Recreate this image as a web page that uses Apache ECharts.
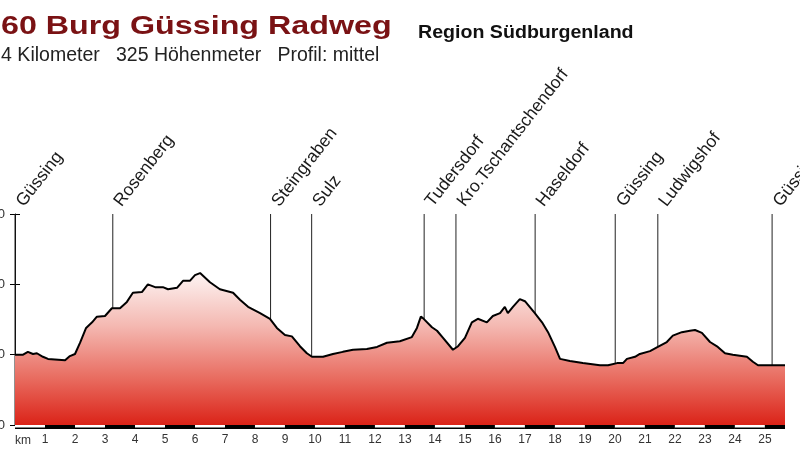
<!DOCTYPE html>
<html>
<head>
<meta charset="utf-8">
<title>Burg Güssing Radweg</title>
<script src="https://cdn.jsdelivr.net/npm/echarts@6/dist/echarts.min.js"></script>
<style>
  html, body { margin: 0; padding: 0; background: #fff; }
  #chart { width: 800px; height: 450px; }
</style>
</head>
<body>
<div id="chart"></div>
<script>
// Streckenprofil: Distanz (km) und Höhe (m)
var profileKm = [0, 0.27, 0.43, 0.6, 0.73, 0.93, 1.1, 1.67, 1.83, 2.0,
  2.17, 2.37, 2.57, 2.73, 3.0, 3.23, 3.5, 3.73, 3.93, 4.23,
  4.43, 4.67, 4.93, 5.1, 5.4, 5.6, 5.83, 6.0, 6.17, 6.5,
  6.83, 7.27, 7.5, 7.77, 8.17, 8.5, 8.73, 9.0, 9.23, 9.5,
  9.73, 9.9, 10.27, 10.6, 10.93, 11.27, 11.73, 12.07, 12.4, 12.83,
  13.23, 13.4, 13.53, 13.6, 13.9, 14.07, 14.27, 14.6, 14.77, 15.0,
  15.23, 15.43, 15.73, 15.93, 16.17, 16.33, 16.43, 16.6, 16.83, 17.0,
  17.33, 17.57, 17.77, 18.0, 18.17, 18.5, 18.93, 19.5, 19.77, 20.07,
  20.27, 20.4, 20.67, 20.83, 21.17, 21.43, 21.73, 21.93, 22.23, 22.5,
  22.67, 22.9, 23.17, 23.43, 23.67, 23.93, 24.4, 24.6, 24.77, 25.23,
  25.67];
var profileElev = [200, 200, 204, 201, 202, 197, 194, 192, 198, 201,
  217, 238, 246, 254, 255, 266, 266, 275, 288, 289,
  300, 296, 296, 293, 295, 305, 305, 313, 316, 303,
  293, 288, 278, 268, 259, 251, 238, 228, 226, 212,
  202, 197, 197, 201, 204, 207, 208, 211, 217, 219,
  225, 238, 254, 252, 239, 234, 224, 207, 212, 224,
  246, 251, 246, 255, 259, 268, 259, 268, 279, 276,
  259, 246, 232, 211, 194, 191, 188, 185, 185, 188,
  188, 194, 197, 201, 205, 211, 218, 227, 232, 234,
  235, 231, 218, 211, 202, 200, 197, 190, 185, 185,
  185];

// Orte entlang der Strecke
var placeNames = ['Güssing', 'Rosenberg', 'Steingraben', 'Sulz', 'Tudersdorf',
  'Kro.Tschantschendorf', 'Haseldorf', 'Güssing', 'Ludwigshof', 'Güssing'];
var placeKm = [0, 3.26, 8.52, 9.89, 13.64, 14.7, 17.34, 20.01, 21.43, 25.24];

// Achsen
var kmLabels = [1, 2, 3, 4, 5, 6, 7, 8, 9, 10, 11, 12, 13, 14, 15, 16, 17, 18, 19, 20, 21, 22, 23, 24, 25];
var elevTicks = [100, 200, 300, 400];
var xMax = 25.67;

var yMin = elevTicks[0];
var yMax = elevTicks[elevTicks.length - 1];
var font = '"Liberation Sans", Arial, sans-serif';
var labelAngle = 52 * Math.PI / 180;

var myChart = echarts.init(document.getElementById('chart'));

myChart.setOption({
  animation: false,
  backgroundColor: '#fff',
  grid: { left: 15, right: 15, top: 214, bottom: 25, containLabel: false, outerBoundsMode: 'none' },
  graphic: [
    {
      type: 'text', x: 1, y: 27, scaleX: 1.29, silent: true,
      style: { text: '60 Burg Güssing Radweg', font: 'bold 25px ' + font, fill: '#7a1214',
        align: 'left', verticalAlign: 'middle' }
    },
    {
      type: 'text', x: 418, y: 33, scaleX: 1.12, silent: true,
      style: { text: 'Region Südburgenland', font: 'bold 17.5px ' + font, fill: '#111',
        align: 'left', verticalAlign: 'middle' }
    },
    {
      type: 'text', x: -26, y: 56, silent: true,
      style: { text: '25,4 Kilometer   325 Höhenmeter   Profil: mittel', font: '19.5px ' + font, fill: '#222',
        align: 'left', verticalAlign: 'middle' }
    },
    {
      type: 'text', x: 15, y: 441, silent: true,
      style: { text: 'km', font: '12px ' + font, fill: '#333', align: 'left', verticalAlign: 'middle' }
    }
  ],
  xAxis: {
    type: 'value',
    min: 0,
    max: xMax,
    interval: 1,
    axisLine: { show: false },
    axisTick: { show: false },
    splitLine: { show: false },
    axisLabel: {
      margin: 9,
      fontSize: 12,
      fontFamily: font,
      color: '#333',
      formatter: function (v) {
        return kmLabels.indexOf(v) >= 0 ? String(v) : '';
      }
    }
  },
  yAxis: [
    {
      type: 'value',
      position: 'left',
      min: yMin,
      max: yMax,
      interval: 100,
      axisLine: { show: true, lineStyle: { color: '#000', width: 1 } },
      axisTick: { show: true, length: 5, lineStyle: { color: '#000' } },
      splitLine: { show: false },
      axisLabel: { margin: 10, fontSize: 13, fontFamily: font, color: '#333' }
    },
    {
      type: 'value',
      position: 'left',
      min: yMin,
      max: yMax,
      interval: 100,
      axisLine: { show: false },
      axisTick: { show: true, inside: true, length: 5, lineStyle: { color: '#000' } },
      splitLine: { show: false },
      axisLabel: { show: false }
    }
  ],
  series: [
    {
      // Ortsmarken: senkrechte Linien und schräge Beschriftung
      type: 'custom',
      z: 1,
      clip: false,
      silent: true,
      data: placeKm.map(function (k) { return [k, yMax]; }),
      renderItem: function (params, api) {
        var km = api.value(0);
        var top = api.coord([km, yMax]);
        var bottom = api.coord([km, yMin]);
        return {
          type: 'group',
          children: [
            {
              type: 'line',
              shape: { x1: top[0], y1: top[1], x2: bottom[0], y2: bottom[1] },
              style: { stroke: '#222', lineWidth: 1 }
            },
            {
              type: 'text',
              x: top[0] + 12,
              y: top[1] - 4,
              rotation: labelAngle,
              style: {
                text: placeNames[params.dataIndex],
                font: '17.5px ' + font,
                fill: '#1a1a1a',
                align: 'left',
                verticalAlign: 'bottom'
              }
            }
          ]
        };
      }
    },
    {
      // Höhenprofil
      type: 'line',
      z: 3,
      silent: true,
      showSymbol: false,
      data: profileKm.map(function (k, i) { return [k, profileElev[i]]; }),
      lineStyle: { color: '#000', width: 2 },
      areaStyle: {
        origin: 'start',
        opacity: 1,
        color: new echarts.graphic.LinearGradient(0, 0, 0, 1, [
          { offset: 0, color: '#fdf4f3' },
          { offset: 0.35, color: '#f4b8b1' },
          { offset: 0.7, color: '#e86a5e' },
          { offset: 1, color: '#db2318' }
        ])
      }
    },
    {
      // Kilometerbalken unter dem Profil
      type: 'custom',
      z: 4,
      clip: false,
      silent: true,
      data: [0].concat(kmLabels).map(function (k) { return [k, yMin]; }),
      renderItem: function (params, api) {
        var k = api.value(0);
        var a = api.coord([k, yMin]);
        var b = api.coord([Math.min(k + 1, xMax), yMin]);
        var w = b[0] - a[0];
        var children = [
          { type: 'rect', shape: { x: a[0], y: a[1], width: w, height: 4 }, style: { fill: '#000' } }
        ];
        if (k % 2 === 0) {
          children.push({ type: 'rect', shape: { x: a[0], y: a[1], width: w, height: 2.5 }, style: { fill: '#fff' } });
        }
        return { type: 'group', children: children };
      }
    }
  ]
});
</script>
</body>
</html>
